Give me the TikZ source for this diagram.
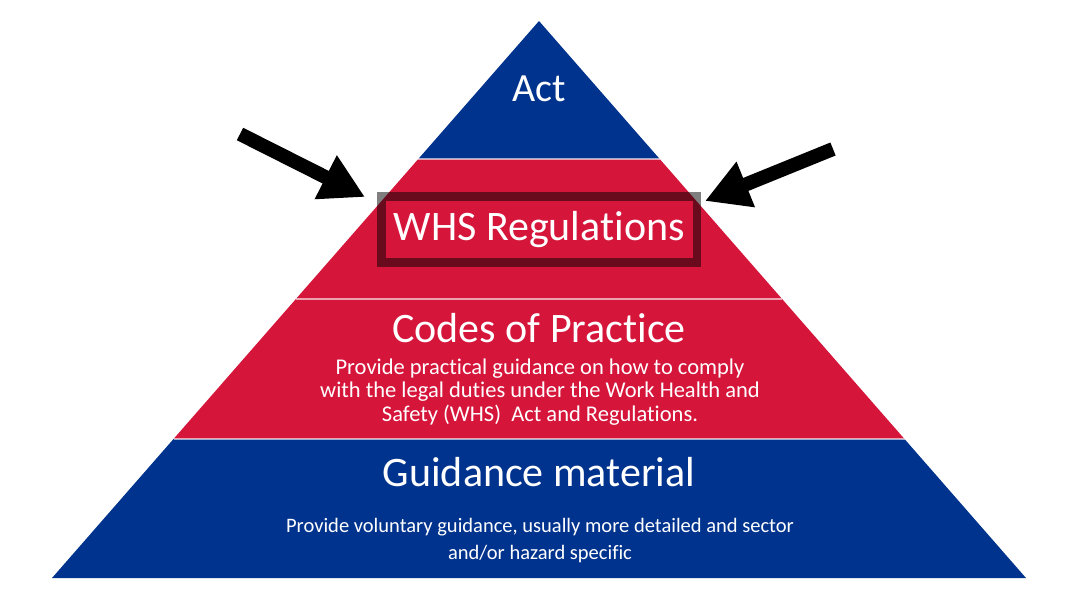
\documentclass[tikz,border=0pt]{standalone}
\usepackage{fontspec}
\setmainfont{Carlito}[Ligatures={NoCommon,NoContextual}]
\usetikzlibrary{arrows.meta}
\definecolor{pblue}{HTML}{00338D}
\definecolor{pred}{HTML}{D6153B}
\tikzset{
  title/.style={text=white,font=\fontsize{42}{50}\selectfont,inner sep=0pt},
  small/.style={text=white,align=center,inner sep=0pt},
  sep/.style={draw=white,draw opacity=0.6,line width=1.2pt},
  bigarrow/.style={line width=14pt,-{Triangle[length=44pt,width=46pt]}},
}
\begin{document}
\begin{tikzpicture}[x=1pt,y=-1pt]
\useasboundingbox (0,0) rectangle (1071,603);
% layers
\fill[pblue] (539,21) -- (659.7,159) -- (418.3,159) -- cycle;
\fill[pred] (418.3,159) -- (659.7,159) -- (782.1,299) -- (295.9,299) -- cycle;
\fill[pred] (295.9,299) -- (782.1,299) -- (904.5,439) -- (173.5,439) -- cycle;
\fill[pblue] (173.5,439) -- (904.5,439) -- (1026,578) -- (52,578) -- cycle;
\draw[sep] (418.3,159) -- (659.7,159);
\draw[sep] (295.9,299) -- (782.1,299);
\draw[sep] (173.5,439) -- (904.5,439);
% texts
\node[title,font=\fontsize{40}{48}\selectfont] (act) at (539,89) {Act};
\node[title,draw=black,draw opacity=0.5,line width=8.5pt,minimum width=315.5pt,minimum height=66pt] (regs) at (539.25,229.5) {WHS Regulations};
\node[title] (codes) at (539,328) {Codes of Practice};
\node[small,font=\fontsize{22.5}{23.5}\selectfont] (codestxt) at (540,392) {Provide practical guidance on how to comply\\with the legal duties under the Work Health and\\Safety (WHS)\ \ Act and Regulations.};
\node[title] (guid) at (539,472) {Guidance material};
\node[small,font=\fontsize{20.5}{27}\selectfont] (guidtxt) at (540,541) {Provide voluntary guidance, usually more detailed and sector\\and/or hazard specific};
% arrows
\coordinate (lt) at (240,134);
\coordinate (lh) at (365,197);
\coordinate (rt) at (833,149);
\coordinate (rh) at (705,201);
\draw[bigarrow] (lt) -- (lh);
\draw[bigarrow] (rt) -- (rh);
\end{tikzpicture}
\end{document}
